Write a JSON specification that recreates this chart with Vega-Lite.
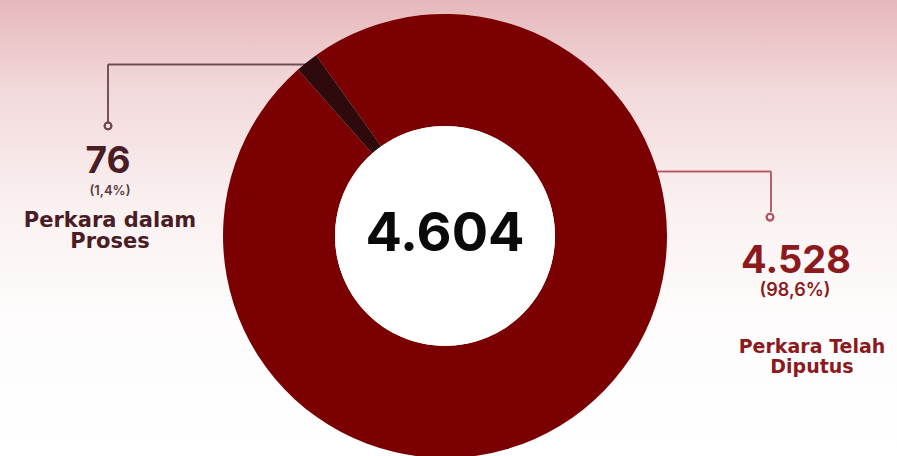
{
  "$schema": "https://vega.github.io/schema/vega-lite/v6.json",
  "width": 897,
  "height": 456,
  "autosize": {"type": "fit", "contains": "padding"},
  "padding": 0,
  "background": "#ffffff",
  "config": {"view": {"stroke": null}, "font": "Inter", "locale": {"number": {"decimal": ",", "thousands": ".", "grouping": [3], "currency": ["Rp", ""]}}},
  "data": {
    "values": [
      {"idx": 1, "kategori": "Perkara Telah Diputus", "jumlah": 4528, "teks_jumlah": "4.528", "persen": "(98,6%)", "label": "Perkara Telah\nDiputus"},
      {"idx": 2, "kategori": "Perkara dalam Proses", "jumlah": 76, "teks_jumlah": "76", "persen": "(1,4%)", "label": "Perkara dalam\nProses"}
    ]
  },
  "layer": [
    {
      "mark": {"type": "rect", "fill": {"gradient": "linear", "x1": 0, "y1": 0, "x2": 0, "y2": 1, "stops": [{"offset": 0, "color": "#e6b8bb"}, {"offset": 0.2, "color": "#f2d9db"}, {"offset": 0.45, "color": "#faf0f0"}, {"offset": 0.7, "color": "#fefcfc"}, {"offset": 1, "color": "#ffffff"}]}},
      "encoding": {
        "x": {"datum": 0, "type": "quantitative", "scale": {"domain": [0, 897], "nice": false, "zero": false}, "axis": null},
        "x2": {"datum": 897},
        "y": {"datum": 0, "type": "quantitative", "scale": {"domain": [0, 456], "reverse": true, "nice": false, "zero": false}, "axis": null},
        "y2": {"datum": 456}
      }
    },
    {
      "mark": {"type": "rule", "color": "#6e4a50", "strokeWidth": 1.5},
      "encoding": {"x": {"datum": 108, "type": "quantitative", "axis": null}, "x2": {"datum": 320}, "y": {"datum": 65, "type": "quantitative", "axis": null}}
    },
    {
      "mark": {"type": "rule", "color": "#6e4a50", "strokeWidth": 1.5},
      "encoding": {"x": {"datum": 108, "type": "quantitative", "axis": null}, "y": {"datum": 65, "type": "quantitative", "axis": null}, "y2": {"datum": 123}}
    },
    {
      "mark": {"type": "rule", "color": "#b5565f", "strokeWidth": 1.5},
      "encoding": {"x": {"datum": 640, "type": "quantitative", "axis": null}, "x2": {"datum": 771}, "y": {"datum": 173, "type": "quantitative", "axis": null}}
    },
    {
      "mark": {"type": "rule", "color": "#b5565f", "strokeWidth": 1.5},
      "encoding": {"x": {"datum": 771, "type": "quantitative", "axis": null}, "y": {"datum": 173, "type": "quantitative", "axis": null}, "y2": {"datum": 214}}
    },
    {
      "mark": {"type": "arc", "outerRadius": 222, "innerRadius": 110},
      "encoding": {
        "x": {"datum": 445, "type": "quantitative", "axis": null},
        "y": {"datum": 238, "type": "quantitative", "axis": null},
        "theta": {"field": "jumlah", "type": "quantitative", "stack": true, "scale": {"range": [-0.6196, 5.6636]}},
        "order": {"field": "idx", "type": "quantitative"},
        "color": {"field": "kategori", "type": "nominal", "scale": {"domain": ["Perkara Telah Diputus", "Perkara dalam Proses"], "range": ["#7b0002", "#2e0a0c"]}, "legend": null}
      }
    },
    {
      "transform": [{"filter": "datum.idx == 1"}],
      "mark": {"type": "arc", "outerRadius": 110, "innerRadius": 0, "theta": 0, "theta2": 6.2832, "color": "#ffffff"},
      "encoding": {
        "x": {"datum": 445, "type": "quantitative", "axis": null},
        "y": {"datum": 238, "type": "quantitative", "axis": null}
      }
    },
    {
      "mark": {"type": "point", "filled": false, "strokeWidth": 2, "size": 45, "color": "#6e4a50", "opacity": 1},
      "encoding": {"x": {"datum": 108, "type": "quantitative", "axis": null}, "y": {"datum": 127, "type": "quantitative", "axis": null}}
    },
    {
      "mark": {"type": "point", "filled": false, "strokeWidth": 2, "size": 45, "color": "#b5565f", "opacity": 1},
      "encoding": {"x": {"datum": 770, "type": "quantitative", "axis": null}, "y": {"datum": 219, "type": "quantitative", "axis": null}}
    },
    {
      "transform": [{"aggregate": [{"op": "sum", "field": "jumlah", "as": "total"}]}],
      "mark": {"type": "text", "font": "Inter", "fontWeight": "bold", "fontSize": 54, "color": "#0a0a0a", "align": "center", "baseline": "alphabetic"},
      "encoding": {
        "x": {"datum": 445, "type": "quantitative", "axis": null},
        "y": {"datum": 253, "type": "quantitative", "axis": null},
        "text": {"field": "total", "type": "quantitative", "format": ",d"}
      }
    },
    {
      "transform": [{"filter": "datum.idx == 2"}],
      "mark": {"type": "text", "font": "Inter", "fontWeight": "bold", "fontSize": 37, "color": "#4a1d26", "align": "center", "baseline": "alphabetic"},
      "encoding": {"x": {"datum": 108, "type": "quantitative", "axis": null}, "y": {"datum": 175, "type": "quantitative", "axis": null}, "text": {"field": "teks_jumlah"}}
    },
    {
      "transform": [{"filter": "datum.idx == 2"}],
      "mark": {"type": "text", "font": "Inter", "fontWeight": 600, "fontSize": 13, "color": "#5a3a40", "align": "center", "baseline": "alphabetic"},
      "encoding": {"x": {"datum": 110, "type": "quantitative", "axis": null}, "y": {"datum": 197, "type": "quantitative", "axis": null}, "text": {"field": "persen"}}
    },
    {
      "transform": [{"filter": "datum.idx == 2"}],
      "mark": {"type": "text", "font": "DejaVu Sans", "fontWeight": "bold", "fontSize": 21, "color": "#4a1d26", "align": "center", "baseline": "alphabetic", "lineBreak": "\n", "lineHeight": 21},
      "encoding": {"x": {"datum": 110, "type": "quantitative", "axis": null}, "y": {"datum": 229, "type": "quantitative", "axis": null}, "text": {"field": "label"}}
    },
    {
      "transform": [{"filter": "datum.idx == 1"}],
      "mark": {"type": "text", "font": "Inter", "fontWeight": "bold", "fontSize": 38, "color": "#8c1a1d", "align": "center", "baseline": "alphabetic"},
      "encoding": {"x": {"datum": 796, "type": "quantitative", "axis": null}, "y": {"datum": 275, "type": "quantitative", "axis": null}, "text": {"field": "teks_jumlah"}}
    },
    {
      "transform": [{"filter": "datum.idx == 1"}],
      "mark": {"type": "text", "font": "Inter", "fontWeight": 600, "fontSize": 18, "color": "#8c1a1d", "align": "center", "baseline": "alphabetic"},
      "encoding": {"x": {"datum": 795, "type": "quantitative", "axis": null}, "y": {"datum": 299, "type": "quantitative", "axis": null}, "text": {"field": "persen"}}
    },
    {
      "transform": [{"filter": "datum.idx == 1"}],
      "mark": {"type": "text", "font": "DejaVu Sans", "fontWeight": "bold", "fontSize": 19, "color": "#8c1a1d", "align": "center", "baseline": "alphabetic", "lineBreak": "\n", "lineHeight": 20},
      "encoding": {"x": {"datum": 812, "type": "quantitative", "axis": null}, "y": {"datum": 356, "type": "quantitative", "axis": null}, "text": {"field": "label"}}
    }
  ]
}
